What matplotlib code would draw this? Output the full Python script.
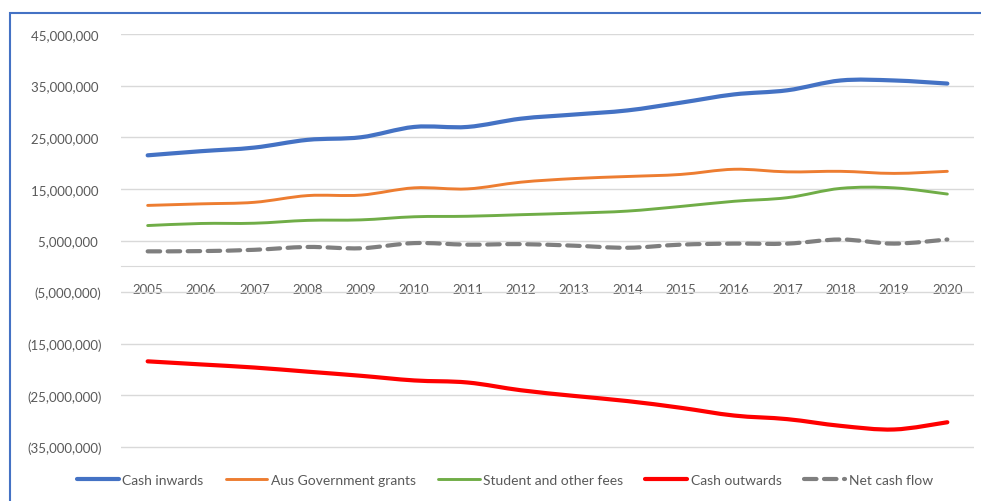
import numpy as np
import matplotlib.pyplot as plt
from matplotlib.path import Path
from matplotlib.patches import PathPatch, Rectangle
from matplotlib.lines import Line2D
from matplotlib.ticker import FuncFormatter

plt.rcParams['font.family'] = ['Lato', 'DejaVu Sans']

years = ['2005', '2006', '2007', '2008', '2009', '2010', '2011', '2012',
         '2013', '2014', '2015', '2016', '2017', '2018', '2019', '2020']

# values in $
cash_inwards = [21.5e6, 22.3e6, 23.0e6, 24.5e6, 25.0e6, 27.0e6, 27.0e6, 28.6e6,
                29.4e6, 30.2e6, 31.7e6, 33.3e6, 34.1e6, 36.0e6, 36.0e6, 35.4e6]
govt_grants = [11.8e6, 12.1e6, 12.4e6, 13.7e6, 13.8e6, 15.2e6, 15.0e6, 16.3e6,
               17.0e6, 17.4e6, 17.8e6, 18.8e6, 18.3e6, 18.4e6, 18.0e6, 18.4e6]
student_fees = [7.9e6, 8.3e6, 8.35e6, 8.9e6, 9.0e6, 9.6e6, 9.7e6, 10.0e6,
                10.3e6, 10.7e6, 11.6e6, 12.6e6, 13.3e6, 15.1e6, 15.2e6, 14.0e6]
cash_outwards = [-18.4e6, -19.0e6, -19.6e6, -20.4e6, -21.2e6, -22.1e6, -22.5e6, -24.0e6,
                 -25.1e6, -26.1e6, -27.4e6, -28.9e6, -29.6e6, -30.9e6, -31.6e6, -30.2e6]
net_cash_flow = [2.9e6, 2.95e6, 3.2e6, 3.75e6, 3.5e6, 4.5e6, 4.2e6, 4.3e6,
                 4.0e6, 3.6e6, 4.2e6, 4.4e6, 4.4e6, 5.2e6, 4.4e6, 5.2e6]

series = [
    ('Cash inwards', cash_inwards, '#4472C4', 3.0, '-'),
    ('Aus Government grants', govt_grants, '#ED7D31', 2.1, '-'),
    ('Student and other fees', student_fees, '#70AD47', 2.1, '-'),
    ('Cash outwards', cash_outwards, '#FF0000', 3.0, '-'),
    ('Net cash flow', net_cash_flow, '#7F7F7F', 3.0, (0, (3.0, 1.8))),
]


def smooth_path(xs, ys):
    # bezier curve through the points, like a "smoothed line" chart
    p = np.column_stack([xs, ys]).astype(float)
    n = len(p)
    verts = [p[0]]
    codes = [Path.MOVETO]
    for i in range(n - 1):
        p0 = p[i - 1] if i > 0 else p[i]
        p3 = p[i + 2] if i + 2 < n else p[i + 1]
        c1 = p[i] + (p[i + 1] - p0) / 6.0
        c2 = p[i + 1] - (p3 - p[i]) / 6.0
        verts += [c1, c2, p[i + 1]]
        codes += [Path.CURVE4] * 3
    return Path(verts, codes)


fig = plt.figure(figsize=(9.81, 5.02), dpi=100)
# y range runs a little past -35M so the last gridline isn't clipped
ax = fig.add_axes([121 / 981, 1 - 453.2 / 502, (974 - 121) / 981, (453.2 - 35) / 502])

x = np.arange(len(years))
handles = []
for name, vals, color, lw, ls in series:
    patch = PathPatch(smooth_path(x, vals), fill=False, edgecolor=color,
                      lw=lw, linestyle=ls, capstyle='round', joinstyle='round')
    ax.add_patch(patch)
    handles.append(Line2D([], [], color=color, lw=lw, linestyle=ls,
                          solid_capstyle='round', dash_capstyle='round', label=name))

ax.set_xlim(-0.5, len(years) - 0.5)
ax.set_ylim(-36e6, 45e6)
ax.set_yticks(np.arange(-35e6, 46e6, 10e6))
ax.set_xticks(x)
ax.set_xticklabels(years)


def money(v, pos):
    if v < 0:
        return '({:,.0f})'.format(-v)
    return '{:,.0f} '.format(v)


ax.yaxis.set_major_formatter(FuncFormatter(money))
ax.yaxis.grid(True, color='#d9d9d9', lw=1)
ax.set_axisbelow(True)
for s in ['top', 'right', 'left']:
    ax.spines[s].set_visible(False)
ax.spines['bottom'].set_position(('data', 0))
ax.spines['bottom'].set_color('#d9d9d9')
ax.tick_params(axis='both', length=0, colors='#595959', labelsize=9.5)
ax.tick_params(axis='y', pad=14)
ax.tick_params(axis='x', pad=12)

# chart border
fig.patches.append(Rectangle((10 / 981, -0.1), 1.2, 1 - 14 / 502 + 0.1,
                             transform=fig.transFigure, fill=False,
                             edgecolor='#4472C4', lw=1.5))

fig.legend(handles=handles, loc='center', bbox_to_anchor=(505 / 981, 1 - 481 / 502),
           ncol=5, frameon=False, fontsize=10, handlelength=3.0, handletextpad=0.25,
           columnspacing=1.6, labelcolor='#595959')

fig.savefig('out.png', dpi=100)
